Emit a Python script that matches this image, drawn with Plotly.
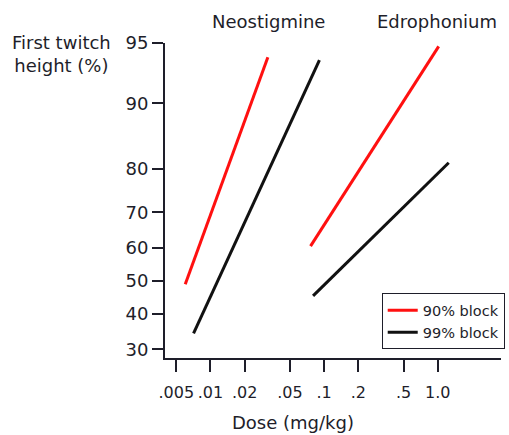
import numpy as np
import plotly.graph_objects as go

# Dose (mg/kg) and first twitch height (%) at the ends of each fitted line
neo_90_dose = [0.006, 0.032]
neo_90_height = [49.0, 94.1]
neo_99_dose = [0.0071, 0.091]
neo_99_height = [34.3, 93.9]
edro_90_dose = [0.076, 1.02]
edro_90_height = [60.6, 94.8]
edro_99_dose = [0.080, 1.25]
edro_99_height = [45.4, 81.2]

x_tick_vals = [0.005, 0.01, 0.02, 0.05, 0.1, 0.2, 0.5, 1.0]
x_tick_text = [".005", ".01", ".02", ".05", ".1", ".2", ".5", "1.0"]
y_tick_pct = [30, 40, 50, 60, 70, 80, 90, 95]

RED = "#ff1010"
BLACK = "#111111"
TEXT = "#1e1e2a"
FONT = "DejaVu Sans"


def logit(pct):
    p = np.asarray(pct, dtype=float) / 100.0
    return np.log(p / (1.0 - p))


fig = go.Figure()

series = [
    (neo_90_dose, neo_90_height, RED, "90% block", True),
    (neo_99_dose, neo_99_height, BLACK, "99% block", True),
    (edro_90_dose, edro_90_height, RED, "90% block", False),
    (edro_99_dose, edro_99_height, BLACK, "99% block", False),
]
for dose, height, color, name, show in series:
    fig.add_trace(go.Scatter(
        x=dose, y=logit(height), mode="lines", name=name,
        line=dict(color=color, width=3), showlegend=show,
        legendgroup=name,
    ))


def label(text, x, y, **kw):
    return dict(text=text, xref="paper", yref="paper", x=x, y=y,
                xanchor="center", yanchor="middle", showarrow=False,
                font=dict(size=18), **kw)


fig.update_layout(
    width=509, height=435,
    margin=dict(l=165, r=4, t=43, b=77),
    paper_bgcolor="white", plot_bgcolor="white",
    font=dict(family=FONT, size=18, color=TEXT),
    xaxis=dict(
        type="log", range=[-2.4, 0.557],
        tickvals=x_tick_vals, ticktext=x_tick_text,
        ticks="outside", ticklen=12, tickwidth=1.5, tickcolor=TEXT,
        ticklabelstandoff=7,
        showline=True, linecolor=TEXT, linewidth=2,
        showgrid=False, zeroline=False,
        tickfont=dict(size=16),
    ),
    yaxis=dict(
        range=[-0.954, float(logit([95])[0])],
        tickvals=logit(y_tick_pct).tolist(),
        ticktext=[str(v) for v in y_tick_pct],
        ticks="outside", ticklen=11, tickwidth=1.5, tickcolor=TEXT,
        showline=True, linecolor=TEXT, linewidth=2,
        showgrid=False, zeroline=False,
        tickfont=dict(size=18),
    ),
    legend=dict(
        x=0.645, y=0.205, xanchor="left", yanchor="top",
        bordercolor=TEXT, borderwidth=1, bgcolor="white",
        font=dict(size=14.5, color=TEXT),
        tracegroupgap=0, itemwidth=30,
    ),
    annotations=[
        label("Neostigmine", 0.309, 1.067),
        label("Edrophonium", 0.809, 1.067),
        label("First twitch<br>height (%)", -0.309, 0.965, align="center"),
        label("Dose (mg/kg)", 0.382, -0.206),
    ],
)

fig.write_html("out.html")
